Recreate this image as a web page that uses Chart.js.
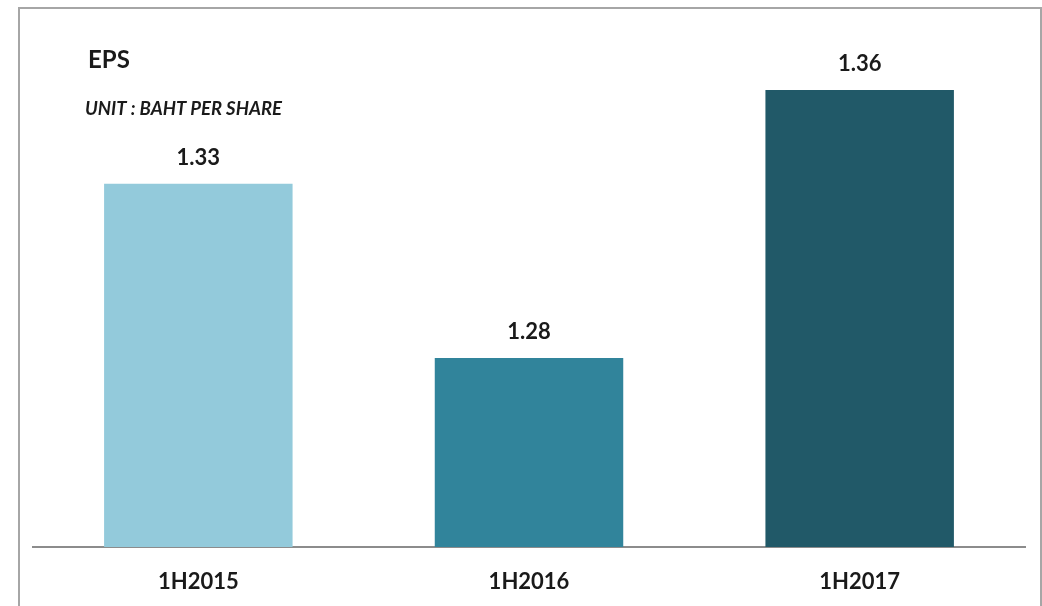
<!DOCTYPE html>
<html>
<head>
<meta charset="utf-8">
<script src="https://cdn.jsdelivr.net/npm/chart.js@4/dist/chart.umd.min.js"></script>
<style>
  html, body { margin: 0; padding: 0; background: #fff; overflow: hidden; }
  #frame { position: absolute; left: 18px; top: 7px; width: 1020px; height: 640px; border: 2px solid #a6a6a6; }
  #wrap { position: absolute; left: 0; top: 0; width: 1042px; height: 606px; }
</style>
</head>
<body>
<div id="frame"></div>
<div id="wrap"><canvas id="epsChart" width="1042" height="606"></canvas></div>
<script>
// Data
const periods = ['1H2015', '1H2016', '1H2017'];
const epsValues = [1.332, 1.28, 1.36];
const barColors = ['#93cadb', '#31849b', '#215968'];

const chartTitle = 'EPS';
const unitLabel = 'UNIT : BAHT PER SHARE';
const textColor = '#1a1a1a';

// Titles and value labels drawn on the canvas
const labelsPlugin = {
    id: 'labelsPlugin',
    afterDatasetsDraw(chart) {
        const ctx = chart.ctx;
        ctx.save();
        ctx.fillStyle = textColor;
        ctx.textAlign = 'center';
        ctx.textBaseline = 'middle';
        ctx.font = 'bold 22px Lato';
        const meta = chart.getDatasetMeta(0);
        meta.data.forEach((bar, i) => {
            ctx.fillText(epsValues[i].toFixed(2), bar.x, bar.y - 26);
        });

        ctx.textAlign = 'left';
        ctx.font = 'bold 24px Lato';
        ctx.fillText(chartTitle, 88, 60);
        ctx.font = 'italic bold 18.5px Lato';
        ctx.fillText(unitLabel, 85, 109);
        ctx.restore();
    }
};

const ctx = document.getElementById('epsChart').getContext('2d');
const epsChart = new Chart(ctx, {
    type: 'bar',
    data: {
        labels: periods,
        datasets: [{
            data: epsValues,
            backgroundColor: barColors,
            barPercentage: 0.57,
            categoryPercentage: 1.0
        }]
    },
    options: {
        responsive: false,
        animation: false,
        layout: {
            padding: { left: 33, right: 17, top: 23, bottom: 0 }
        },
        plugins: {
            legend: { display: false },
            tooltip: { enabled: false }
        },
        scales: {
            x: {
                grid: { display: false, drawTicks: false },
                border: { display: true, color: '#8c8c8c', width: 2 },
                ticks: {
                    color: textColor,
                    font: { family: 'Lato', size: 22, weight: 'bold' },
                    padding: 22
                },
                afterFit(scale) {
                    scale.height = 59;
                }
            },
            y: {
                display: false,
                min: 1.2236,
                max: 1.38
            }
        }
    },
    plugins: [labelsPlugin]
});
</script>
</body>
</html>
